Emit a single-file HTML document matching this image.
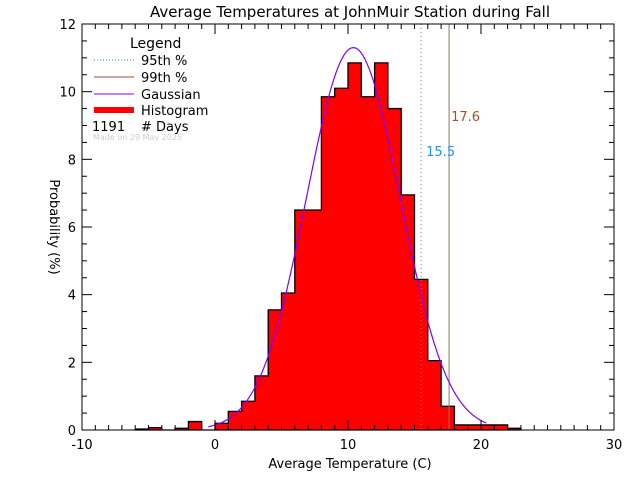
<!DOCTYPE html>
<html><head><meta charset="utf-8"><style>
body{margin:0;background:#fff}
svg{display:block;font-family:"DejaVu Sans","Liberation Sans",sans-serif}
</style></head><body>
<svg id="c" width="640" height="480">
<text x="350" y="17" font-size="15" text-anchor="middle">Average Temperatures at JohnMuir Station during Fall</text>
<g id="plot"></g>
<text x="350" y="468" font-size="13" text-anchor="middle">Average Temperature (C)</text>
<text transform="translate(50,227) rotate(90)" font-size="13" text-anchor="middle">Probability  (%)</text>
<g font-size="13">
<text x="130" y="48" font-size="14">Legend</text>
<line x1="94" y1="60" x2="134" y2="60" stroke="#1e90ff" stroke-dasharray="1,2"/><text x="141" y="65">95th %</text>
<line x1="94" y1="77" x2="134" y2="77" stroke="#a0522d"/><text x="141" y="82">99th %</text>
<line x1="94" y1="94" x2="134" y2="94" stroke="#8000ff"/><text x="141" y="99">Gaussian</text>
<line x1="94" y1="110" x2="134" y2="110" stroke="#f00" stroke-width="6"/><text x="141" y="115">Histogram</text>
<text x="92" y="131">1191</text><text x="141" y="131"># Days</text>
<text x="93" y="140" font-size="8" fill="#ccc">Made on 29 May 2025</text>
</g>
</svg>
<script>
const binStarts=[-6,-5,-4,-3,-2,-1,0,1,2,3,4,5,6,7,8,9,10,11,12,13,14,15,16,17,18,19,20,21,22];
const binValues=[0.03,0.07,0,0.05,0.25,0,0.2,0.55,0.85,1.6,3.55,4.05,6.5,6.5,9.85,10.1,10.85,9.85,10.85,9.5,6.95,4.45,2.05,0.7,0.15,0.15,0.15,0.15,0.05];
const gaussMean=[10.4];
const gaussSigma=[3.53];
const percentiles=[15.5,17.6];
const xTicks=[-10,0,10,20,30];
const yTicks=[0,2,4,6,8,10,12];
const X0=82,X1=614,Y0=430,Y1=24;
const xs=v=>X0+(v+10)/40*(X1-X0);
const ys=v=>Y0-v/12*(Y0-Y1);
const NS='http://www.w3.org/2000/svg';
const g=document.getElementById('plot');
function mk(t,a){const e=document.createElementNS(NS,t);for(const k in a)e.setAttribute(k,a[k]);g.appendChild(e);return e;}
// histogram fill
let d='M'+xs(binStarts[0])+','+ys(0);
binStarts.forEach((s,i)=>{d+=' L'+xs(s)+','+ys(binValues[i])+' L'+xs(s+1)+','+ys(binValues[i]);});
d+=' L'+xs(binStarts[binStarts.length-1]+1)+','+ys(0)+' Z';
let h=mk('path',{d:d,fill:'#f00',stroke:'#000','stroke-width':1.3});


// percentile lines
const pcol=['#a0826d','#8b7b6b'];
percentiles.forEach((p,i)=>{let l=mk('line',{x1:xs(p),x2:xs(p),y1:Y1,y2:Y0,stroke:i?'#8c7760':'#a08060','stroke-dasharray':i?'':'1,3'});

});
let t1=mk('text',{x:xs(percentiles[0])+5,y:156,fill:'#1e90ff','font-size':13});t1.textContent=percentiles[0].toFixed(1);


let t2=mk('text',{x:xs(percentiles[1])+2,y:121,fill:'#a0522d','font-size':13});t2.textContent=percentiles[1].toFixed(1);


// gaussian
let gp='';for(let v=-0.5;v<=20.5;v+=0.1){const y=100/(gaussSigma[0]*Math.sqrt(2*Math.PI))*Math.exp(-0.5*((v-gaussMean[0])/gaussSigma[0])**2);gp+=(gp?' L':'M')+xs(v).toFixed(1)+','+ys(y).toFixed(1);}
let gl=mk('path',{d:gp,fill:'none',stroke:'#8000ff','stroke-width':1.2});


// axes box
let bx=mk('rect',{x:X0,y:Y1,width:X1-X0,height:Y0-Y1,fill:'none',stroke:'#000','stroke-width':1});


for(let v=-10;v<=30;v++){const len=v%10===0?10:5;mk('line',{x1:xs(v),x2:xs(v),y1:Y0,y2:Y0-len,stroke:'#000'});mk('line',{x1:xs(v),x2:xs(v),y1:Y1,y2:Y1+len,stroke:'#000'});}
for(let v=0;v<=12;v+=0.5){const len=v%2===0?10:5;mk('line',{x1:X0,x2:X0+len,y1:ys(v),y2:ys(v),stroke:'#000'});mk('line',{x1:X1,x2:X1-len,y1:ys(v),y2:ys(v),stroke:'#000'});}
xTicks.forEach(v=>{let t=mk('text',{x:xs(v),y:Y0+19,'font-size':13,'text-anchor':'middle'});t.textContent=v;

});
yTicks.forEach(v=>{let t=mk('text',{x:X0-6,y:ys(v)+5,'font-size':13,'text-anchor':'end'});t.textContent=v;

});
</script>
</body></html>
